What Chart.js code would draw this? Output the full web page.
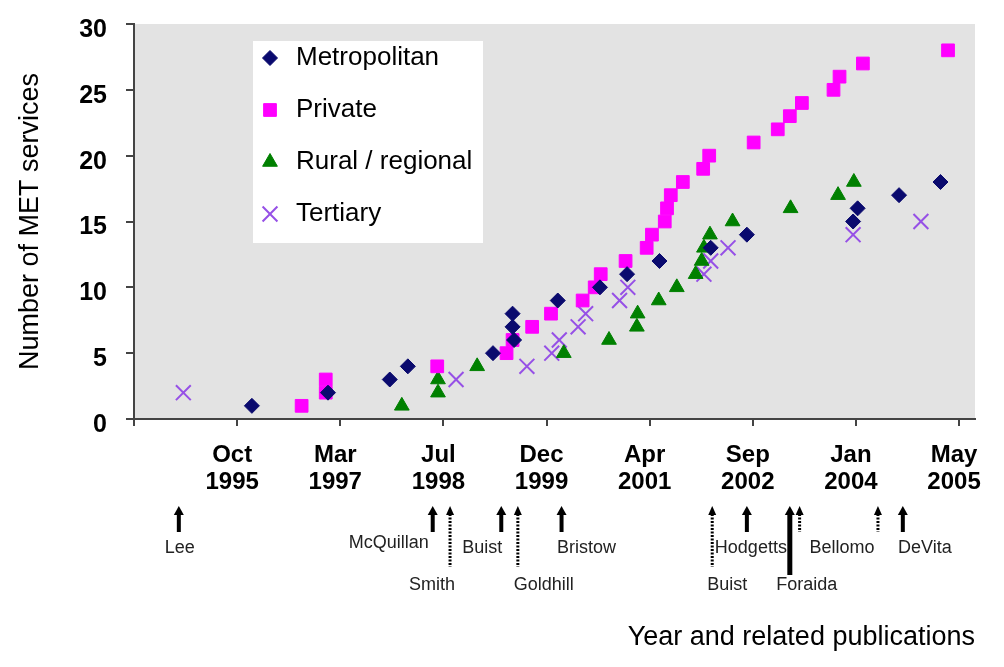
<!DOCTYPE html>
<html>
<head>
<meta charset="utf-8">
<script src="https://cdn.jsdelivr.net/npm/chart.js@4.4.1/dist/chart.umd.min.js"></script>
<style>
  body { margin: 0; background: #fff; }
  #wrap { width: 1004px; height: 667px; }
</style>
</head>
<body>
<div id="wrap"><canvas id="metChart" width="1004" height="667"></canvas></div>
<script>
// x = date as decimal year, y = cumulative number of MET services
const metroYears = [1996.02, 1997.03, 1997.85, 1998.09, 1999.22, 1999.50, 1999.48, 1999.48, 2000.08,
    2000.64, 2001.00, 2001.43, 2002.11, 2002.59, 2004.00, 2004.06, 2004.61, 2005.16];
const metroCounts = [1, 2, 3, 4, 5, 6, 7, 8, 9, 10, 11, 12, 13, 14, 15, 16, 17, 18];

const privateYears = [1996.68, 1997.00, 1997.00, 1998.48, 1999.40, 1999.48, 1999.74, 1999.99, 2000.41,
    2000.57, 2000.65, 2000.98, 2001.26, 2001.33, 2001.50, 2001.53, 2001.58, 2001.74, 2002.01, 2002.09,
    2002.68, 2003.00, 2003.16, 2003.32, 2003.74, 2003.82, 2004.13, 2005.26];
const privateCounts = [1, 2, 3, 4, 5, 6, 7, 8, 9, 10, 11, 12, 13, 14, 15, 16, 17, 18, 19, 20,
    21, 22, 23, 24, 25, 26, 27, 28];

const ruralYears = [1998.01, 1998.49, 1998.49, 1999.01, 2000.16, 2000.76, 2001.13, 2001.14, 2001.42,
    2001.66, 2001.91, 2001.99, 2002.02, 2002.10, 2002.40, 2003.17, 2003.80, 2004.01];
const ruralCounts = [1, 2, 3, 4, 5, 6, 7, 8, 9, 10, 11, 12, 13, 14, 15, 16, 17, 18];

const tertiaryYears = [1995.11, 1998.73, 1999.67, 2000.00, 2000.10, 2000.35, 2000.45, 2000.90, 2001.01,
    2002.02, 2002.11, 2002.34, 2004.00, 2004.90];
const tertiaryCounts = [2, 3, 4, 5, 6, 7, 8, 9, 10, 11, 12, 13, 14, 15];

// x axis: ticks every 500 days from mid June 1994
const xMin = 1994.455;
const tickStep = 500 / 365.25;
const xMax = xMin + 11.163;
const tickLabels = ['', 'Oct 1995', 'Mar 1997', 'Jul 1998', 'Dec 1999', 'Apr 2001',
    'Sep 2002', 'Jan 2004', 'May 2005'];

// related publications (arrows under the axis)
const pubNames = ['Lee', 'McQuillan', 'Smith', 'Buist', 'Goldhill', 'Bristow',
    'Buist', 'Hodgetts', 'Foraida', '', 'Bellomo', 'DeVita'];
const pubYears = [1995.05, 1998.42, 1998.65, 1999.33, 1999.55, 2000.13,
    2002.13, 2002.59, 2003.16, 2003.29, 2004.33, 2004.66];

const FONT = "'Liberation Sans', Arial, sans-serif";

function toPoints(xs, ys) {
    return xs.map((x, i) => ({ x: x, y: ys[i] }));
}

// arrow look for each publication: dotted?, long shaft?, label row, label shift
const pubLayout = [
    { dotted: false, long: false, row: 0, dx: 1 },
    { dotted: false, long: false, row: -1, dx: -44 },
    { dotted: true, long: true, row: 1, dx: -18 },
    { dotted: false, long: false, row: 0, dx: -19 },
    { dotted: true, long: true, row: 1, dx: 26 },
    { dotted: false, long: false, row: 0, dx: 25 },
    { dotted: true, long: true, row: 1, dx: 15 },
    { dotted: false, long: false, row: 0, dx: 4 },
    { dotted: false, long: true, row: 1, dx: 17, heavy: true },
    { dotted: true, long: false, row: 0, dx: 0 },
    { dotted: true, long: false, row: 0, dx: -36 },
    { dotted: false, long: false, row: 0, dx: 22 }
];

function drawArrow(ctx, x, yTop, yBottom, dotted, heavy) {
    const hw = dotted ? 4 : 5;
    ctx.fillStyle = '#000';
    ctx.strokeStyle = '#000';
    ctx.beginPath();
    ctx.moveTo(x, yTop);
    ctx.lineTo(x - hw, yTop + 9);
    ctx.lineTo(x + hw, yTop + 9);
    ctx.closePath();
    ctx.fill();
    ctx.lineWidth = dotted ? 3 : (heavy ? 5 : 4);
    ctx.setLineDash(dotted ? [2, 1.5] : []);
    ctx.beginPath();
    ctx.moveTo(x, yTop + 8);
    ctx.lineTo(x, yBottom);
    ctx.stroke();
    ctx.setLineDash([]);
}

// grey plot area
const plotBackground = {
    id: 'plotBackground',
    beforeDraw(chart) {
        const { ctx, chartArea } = chart;
        ctx.save();
        ctx.fillStyle = '#e3e3e3';
        ctx.fillRect(chartArea.left, chartArea.top, chartArea.right - chartArea.left, chartArea.bottom - chartArea.top);
        ctx.restore();
    }
};

// legend box inside the plot
const insideLegend = {
    id: 'insideLegend',
    beforeDatasetsDraw(chart) {
        const ctx = chart.ctx;
        ctx.save();
        ctx.fillStyle = '#fff';
        ctx.fillRect(253, 41, 230, 202);
        chart.data.datasets.forEach((ds, i) => {
            const y = 58 + i * 52;
            ctx.fillStyle = ds.backgroundColor;
            ctx.strokeStyle = ds.borderColor;
            ctx.lineWidth = ds.borderWidth;
            Chart.helpers.drawPoint(ctx, {
                pointStyle: ds.pointStyle,
                radius: ds.pointRadius,
                borderWidth: ds.borderWidth,
                rotation: 0
            }, 270, y);
            ctx.fillStyle = '#000';
            ctx.font = '26px ' + FONT;
            ctx.textBaseline = 'middle';
            ctx.textAlign = 'left';
            ctx.fillText(ds.label, 296, y);
        });
        ctx.restore();
    }
};

// publication arrows under the date axis
const publications = {
    id: 'publications',
    afterDraw(chart) {
        const ctx = chart.ctx;
        const xScale = chart.scales.x;
        ctx.save();
        pubYears.forEach((yr, i) => {
            const lay = pubLayout[i];
            const x = xScale.getPixelForValue(yr);
            drawArrow(ctx, x, 506, lay.long ? (lay.heavy ? 575 : 567) : 532, lay.dotted, lay.heavy);
            if (!pubNames[i]) return;
            ctx.fillStyle = '#222';
            ctx.font = '18px ' + FONT;
            ctx.textAlign = 'center';
            ctx.textBaseline = 'middle';
            const ly = lay.row === 1 ? 585 : (lay.row === -1 ? 543 : 548);
            ctx.fillText(pubNames[i], x + lay.dx, ly);
        });
        ctx.restore();
    }
};

const ctx = document.getElementById('metChart').getContext('2d');
const metChart = new Chart(ctx, {
    type: 'scatter',
    data: {
        datasets: [
            {
                label: 'Metropolitan',
                data: toPoints(metroYears, metroCounts),
                pointStyle: 'rectRot',
                pointRadius: 7.5,
                backgroundColor: '#0a0a6e',
                borderColor: '#0a0a6e',
                borderWidth: 1
            },
            {
                label: 'Private',
                data: toPoints(privateYears, privateCounts),
                pointStyle: 'rect',
                pointRadius: 9,
                backgroundColor: '#ff00ff',
                borderColor: '#ff00ff',
                borderWidth: 1
            },
            {
                label: 'Rural / regional',
                data: toPoints(ruralYears, ruralCounts),
                pointStyle: 'triangle',
                pointRadius: 8.5,
                backgroundColor: '#008000',
                borderColor: '#008000',
                borderWidth: 1
            },
            {
                label: 'Tertiary',
                data: toPoints(tertiaryYears, tertiaryCounts),
                pointStyle: 'crossRot',
                pointRadius: 10.5,
                backgroundColor: '#9650e6',
                borderColor: '#9650e6',
                borderWidth: 2
            }
        ]
    },
    options: {
        responsive: false,
        animation: false,
        events: [],
        layout: { padding: { top: 24, right: 29, left: 0, bottom: 0 } },
        plugins: {
            legend: { display: false },
            tooltip: { enabled: false }
        },
        scales: {
            x: {
                type: 'linear',
                min: xMin,
                max: xMax,
                afterBuildTicks: scale => {
                    scale.ticks = tickLabels.map((_, k) => ({ value: xMin + k * tickStep }));
                },
                afterFit: scale => {
                    scale.height = 248;
                    scale.paddingLeft = 0;
                    scale.paddingRight = 0;
                },
                grid: { drawOnChartArea: false, drawTicks: true, tickLength: 7, color: '#444', lineWidth: 2 },
                border: { display: true, color: '#444', width: 2 },
                ticks: {
                    autoSkip: false,
                    maxRotation: 0,
                    padding: 16,
                    labelOffset: -5,
                    color: '#000',
                    font: { family: FONT, size: 24, weight: 'bold', lineHeight: 1.12 },
                    callback: (value, index) => tickLabels[index] ? tickLabels[index].split(' ') : ''
                },
                title: {
                    display: true,
                    text: 'Year and related publications',
                    align: 'end',
                    color: '#000',
                    font: { family: FONT, size: 27, lineHeight: 1.2 },
                    padding: { top: 0, bottom: 13 }
                }
            },
            y: {
                min: 0,
                max: 30,
                afterFit: scale => {
                    scale.width = 134;
                    scale.paddingTop = 0;
                    scale.paddingBottom = 0;
                },
                grid: { drawOnChartArea: false, drawTicks: true, tickLength: 8, color: '#444', lineWidth: 2 },
                border: { display: true, color: '#444', width: 2 },
                ticks: {
                    stepSize: 5,
                    padding: 19,
                    labelOffset: 6,
                    color: '#000',
                    font: { family: FONT, size: 25, weight: 'bold' }
                },
                title: {
                    display: true,
                    text: 'Number of MET services',
                    color: '#000',
                    font: { family: FONT, size: 27, lineHeight: 1.2 },
                    padding: { top: 14, bottom: 0 }
                }
            }
        }
    },
    plugins: [plotBackground, insideLegend, publications]
});
</script>
</body>
</html>
